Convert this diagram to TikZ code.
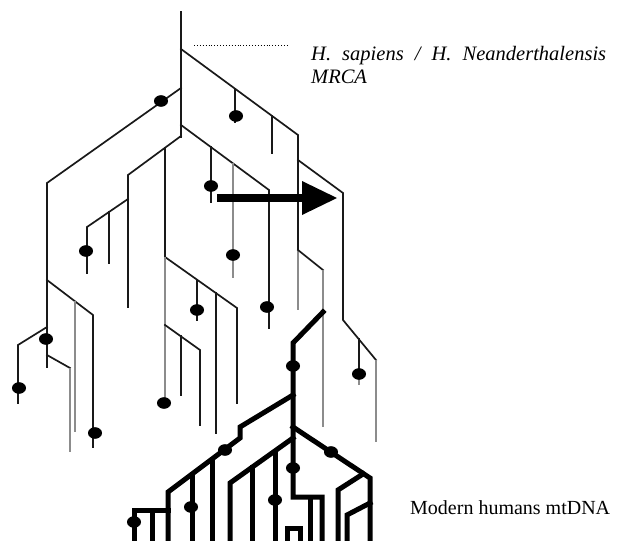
\documentclass[tikz,border=0pt]{standalone}
\usepackage{fontspec}
\setmainfont{Liberation Serif}
\begin{document}
\begin{tikzpicture}[x=1pt,y=-1pt,
  fineline/.style={line width=1.7pt, black!90, line cap=rect},
  greyline/.style={line width=2.8pt, black!45},
  boldline/.style={line width=5pt, line cap=rect},
  knot/.style={fill=black},
  label/.style={inner sep=0pt, font=\fontsize{20.5}{24}\selectfont}]
\useasboundingbox (0,0) rectangle (622,541);

% ---- ancestral lineages (thin tree) ----
\draw[fineline] (181,12) -- (181,137);
\draw[dotted, line width=0.9pt] (194,45) -- (289,45);

% right-hand clade
\draw[fineline] (181,49) -- (298,135) -- (298,250);
\draw[fineline] (235,89) -- (235,122);
\draw[fineline] (272,116) -- (272,153);
\draw[greyline] (298,250) -- (298,310);
\draw[fineline] (298,160) -- (343,193) -- (343,320) -- (376,360);
\draw[greyline] (376,360) -- (376,442);
\draw[fineline] (359,339) -- (359,374);
\draw[greyline] (359,374) -- (359,385);
\draw[fineline] (298,250) -- (323,270);
\draw[greyline] (323,270) -- (323,427);

% left-hand clade
\draw[fineline] (181,88) -- (47,183) -- (47,367);
\draw[fineline] (47,280) -- (93,315) -- (93,447);
\draw[greyline] (75,301) -- (75,432);
\draw[fineline] (47,327) -- (18,345) -- (18,403);
\draw[fineline] (47,355) -- (70,368);
\draw[greyline] (70,368) -- (70,452);

% central clade
\draw[fineline] (181,136) -- (128,175) -- (128,307);
\draw[fineline] (128,199) -- (87,227) -- (87,273);
\draw[fineline] (109,212) -- (109,263);
\draw[fineline] (165,148) -- (165,257) -- (237,308) -- (237,403);
\draw[greyline] (165,257) -- (165,403);
\draw[fineline] (197,280) -- (197,320);
\draw[fineline] (216,293) -- (216,433);
\draw[fineline] (165,325) -- (200,350) -- (200,425);
\draw[fineline] (181,336) -- (181,395);
\draw[fineline] (181,125) -- (269,190) -- (269,328);
\draw[fineline] (211,147) -- (211,202);
\draw[greyline] (233,163) -- (233,278);

% mutations on the ancestral lineages
\foreach \p in {(161,101),(236,116),(211,186),(233,255),(86,251),(267,307),
                (197,310),(46,339),(19,388),(95,433),(164,403),(359,374)}
  \fill[knot] \p ellipse [x radius=7pt, y radius=5.8pt];

% ---- modern human mtDNA (bold tree) ----
\draw[boldline] (323,312) -- (293,343) -- (293,497) -- (322,497) -- (322,541);
\draw[boldline] (310,497) -- (310,541);
\draw[boldline] (287,541) -- (287,528) -- (300,528) -- (300,541);
\draw[boldline] (293,395) -- (240,427) -- (240,438) -- (168,492) -- (168,541);
\draw[boldline] (212,459) -- (212,541);
\draw[boldline] (192,474) -- (192,541);
\draw[boldline] (168,510) -- (134,510) -- (134,541);
\draw[boldline] (152,510) -- (152,541);
\draw[boldline] (293,438) -- (230,483) -- (230,541);
\draw[boldline] (252,467) -- (252,541);
\draw[boldline] (275,451) -- (275,541);
\draw[boldline] (293,427) -- (370,478) -- (370,541);
\draw[boldline] (363,474) -- (338,490) -- (338,541);
\draw[boldline] (370,503) -- (347,515) -- (347,541);
\foreach \p in {(293,366),(293,468),(225,450),(191,507),(134,522),(275,500),(331,452)}
  \fill[knot] \p ellipse [x radius=7pt, y radius=5.8pt];

% ---- arrow ----
\draw[line width=7.5pt] (217,198) -- (303,198);
\fill (302,181) -- (337,198) -- (302,215) -- cycle;

% ---- labels ----
\node[label, anchor=base west, font=\fontsize{20.5}{24}\selectfont\itshape] (mrca1) at (311,60)
  {\makebox[295pt][s]{H. sapiens / H. Neanderthalensis}};
\node[label, anchor=base west, font=\fontsize{20.5}{24}\selectfont\itshape] (mrca2) at (311,83) {MRCA};
\node[label, anchor=base west, font=\fontsize{20}{24}\selectfont] (modern) at (410,514) {Modern humans mtDNA};
\end{tikzpicture}
\end{document}
